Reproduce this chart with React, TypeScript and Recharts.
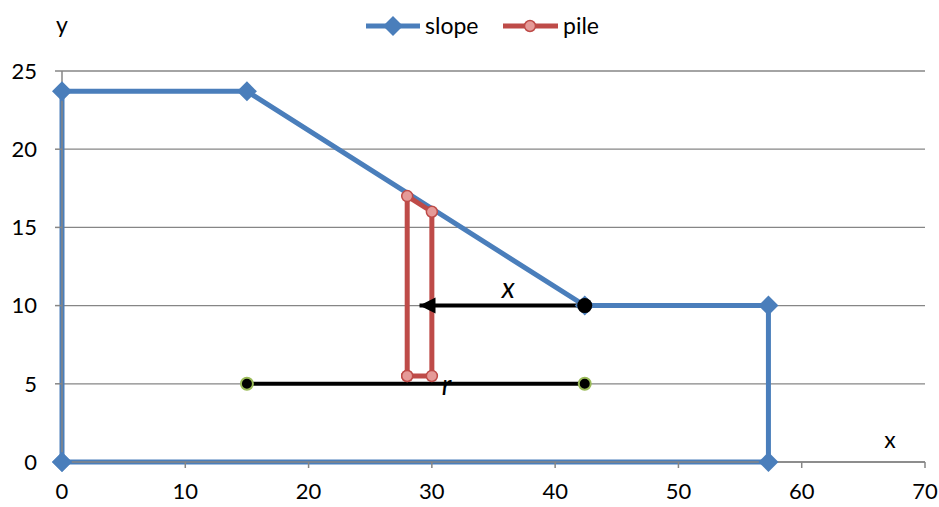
import React from 'react';
import { ComposedChart, Line, XAxis, YAxis, CartesianGrid, Legend, ReferenceDot } from 'recharts';

const slopeX = [0, 0, 15, 42.4, 57.3, 57.3, 0];
const slopeY = [0, 23.7, 23.7, 10, 10, 0, 0];
const pileX = [28, 28, 30, 30, 28];
const pileY = [5.5, 17, 16, 5.5, 5.5];
const arrowX = [42.4, 29.0];
const arrowY = [10, 10];
const radiusX = [15, 42.4];
const radiusY = [5, 5];
const xTicks = [0, 10, 20, 30, 40, 50, 60, 70];
const yTicks = [0, 5, 10, 15, 20, 25];
const annotations = [
  { x: 36.2, y: 11.2, text: 'x' },
  { x: 31.2, y: 5.0, text: 'r' },
];
const axisTitles = [
  { x: 0, y: 28.0, text: 'y' },
  { x: 67.15, y: 1.5, text: 'x' },
];

const zip = (xs: number[], ys: number[]) => xs.map((x, i) => ({ x, y: ys[i] }));
const slopeData = zip(slopeX, slopeY);
const pileData = zip(pileX, pileY);
const arrowData = zip(arrowX, arrowY);
const radiusData = zip(radiusX, radiusY);

const BLUE = '#4A7EBB';
const RED = '#BE4B48';
const PINK = '#E59A98';
const GREEN = '#9BBB59';
const FONT = 'Lato, "Open Sans", sans-serif';

const Diamond = (p: any) => {
  const { cx, cy, index } = p;
  if (cx == null || cy == null) return <g key={index} />;
  const r = 10;
  return <path key={index} d={`M${cx},${cy - r}L${cx + r},${cy}L${cx},${cy + r}L${cx - r},${cy}Z`} fill={BLUE} />;
};

const PileDot = (p: any) => {
  const { cx, cy, index } = p;
  return <circle key={index} cx={cx} cy={cy} r={5.5} fill={PINK} stroke={RED} strokeWidth={1.5} />;
};

const ArrowDot = (p: any) => {
  const { cx, cy, index } = p;
  if (index === 0) return <circle key={index} cx={cx} cy={cy} r={7.5} fill="#000" />;
  return <path key={index} d={`M${cx},${cy}L${cx + 16},${cy - 8}L${cx + 16},${cy + 8}Z`} fill="#000" />;
};

const RadiusDot = (p: any) => {
  const { cx, cy, index } = p;
  return <circle key={index} cx={cx} cy={cy} r={6} fill="#000" stroke={GREEN} strokeWidth={2} />;
};

const LegendContent = () => (
  <div style={{ width: 939, height: 30 }}>
    <svg width={939} height={30}>
      <line x1={366} y1={15} x2={420} y2={15} stroke={BLUE} strokeWidth={5} />
      <path d="M393,5L403,15L393,25L383,15Z" fill={BLUE} />
      <text x={425} y={23} fontSize={23} fontFamily={FONT} fill="#000">slope</text>
      <line x1={503} y1={15} x2={558} y2={15} stroke={RED} strokeWidth={5} />
      <circle cx={530} cy={15} r={5.5} fill={PINK} stroke={RED} strokeWidth={1.5} />
      <text x={563} y={23} fontSize={23} fontFamily={FONT} fill="#000">pile</text>
    </svg>
  </div>
);

export default function App() {
  return (
    <div style={{ position: 'absolute', left: 0, top: 0, background: '#fff' }}>
      <ComposedChart width={939} height={507} margin={{ top: 41, right: 14, bottom: 15, left: 0 }}>
        <CartesianGrid vertical={false} stroke="#868686" strokeWidth={1.3} />
        <XAxis
          type="number"
          dataKey="x"
          domain={[0, 70]}
          ticks={xTicks}
          height={30}
          tickSize={6}
          tickMargin={15}
          axisLine={{ stroke: '#868686', strokeWidth: 1.5 }}
          tickLine={{ stroke: '#868686', strokeWidth: 1.5 }}
          tick={{ fill: '#000', fontSize: 22, fontFamily: FONT }}
          allowDuplicatedCategory={false}
        />
        <YAxis
          type="number"
          dataKey="y"
          domain={[0, 25]}
          ticks={yTicks}
          width={62}
          tickSize={7}
          tickMargin={18}
          axisLine={{ stroke: '#868686', strokeWidth: 1.5 }}
          tickLine={{ stroke: '#868686', strokeWidth: 1.5 }}
          tick={{ fill: '#000', fontSize: 22, fontFamily: FONT }}
        />
        <Legend verticalAlign="top" wrapperStyle={{ top: 11, left: 0 }} content={<LegendContent />} />
        {annotations.map((a, i) => (
          <ReferenceDot
            key={'a' + i}
            x={a.x}
            y={a.y}
            r={0}
            ifOverflow="visible"
            shape={(p: any) => (
              <text x={p.cx} y={p.cy} textAnchor="middle" dominantBaseline="central" fontSize={28} fontStyle="italic" fontFamily={FONT} fill="#000">{a.text}</text>
            )}
          />
        ))}
        {axisTitles.map((a, i) => (
          <ReferenceDot
            key={'t' + i}
            x={a.x}
            y={a.y}
            r={0}
            ifOverflow="visible"
            shape={(p: any) => (
              <text x={p.cx} y={p.cy} textAnchor="middle" dominantBaseline="central" fontSize={23} fontFamily={FONT} fill="#000">{a.text}</text>
            )}
          />
        ))}
        <Line data={slopeData} dataKey="y" name="slope" stroke={BLUE} strokeWidth={5} dot={Diamond} activeDot={false} isAnimationActive={false} />
        <Line data={pileData} dataKey="y" name="pile" stroke={RED} strokeWidth={5} dot={PileDot} activeDot={false} isAnimationActive={false} />
        <Line data={radiusData} dataKey="y" name="r" stroke="#000" strokeWidth={4} dot={RadiusDot} activeDot={false} legendType="none" isAnimationActive={false} />
        <Line data={arrowData} dataKey="y" name="x" stroke="#000" strokeWidth={4} dot={ArrowDot} activeDot={false} legendType="none" isAnimationActive={false} />
      </ComposedChart>
    </div>
  );
}
